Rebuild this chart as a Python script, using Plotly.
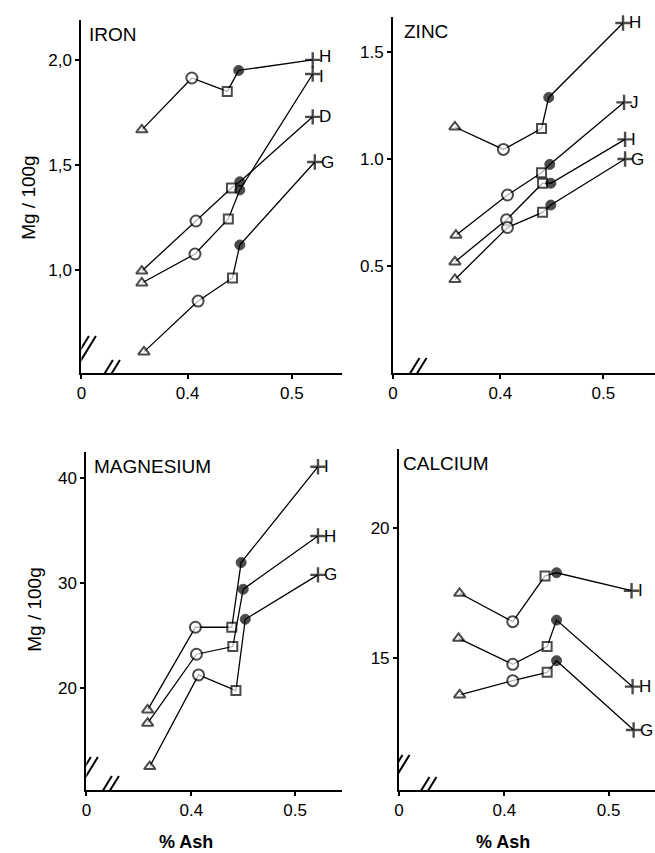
import plotly.graph_objects as go

# ---------------- data ----------------
symbols = ["triangle-up", "circle", "square", "circle", "cross-thin"]
fills = ["white", "white", "white", "black", "black"]

# IRON
iron_H_x = [0.356, 0.404, 0.438, 0.449, 0.520]
iron_H_y = [1.667, 1.914, 1.850, 1.950, 2.000]
iron_D_x = [0.356, 0.408, 0.442, 0.450, 0.520]
iron_D_y = [0.995, 1.233, 1.390, 1.420, 1.729]
iron_I_x = [0.356, 0.407, 0.439, 0.450, 0.520]
iron_I_y = [0.938, 1.076, 1.243, 1.381, 1.933]
iron_G_x = [0.358, 0.410, 0.443, 0.450, 0.522]
iron_G_y = [0.610, 0.852, 0.962, 1.119, 1.514]

# ZINC
zinc_H_x = [0.356, 0.403, 0.440, 0.447, 0.519]
zinc_H_y = [1.150, 1.045, 1.143, 1.288, 1.636]
zinc_J_x = [0.357, 0.407, 0.440, 0.448, 0.520]
zinc_J_y = [0.644, 0.832, 0.936, 0.975, 1.265]
zinc_I_x = [0.356, 0.406, 0.441, 0.449, 0.521]
zinc_I_y = [0.519, 0.716, 0.887, 0.887, 1.092]
zinc_G_x = [0.356, 0.407, 0.441, 0.449, 0.521]
zinc_G_y = [0.437, 0.680, 0.751, 0.785, 1.000]

# MAGNESIUM
mg_I_x = [0.358, 0.404, 0.439, 0.448, 0.522]
mg_I_y = [17.94, 25.81, 25.81, 31.97, 41.1]
mg_H_x = [0.358, 0.405, 0.440, 0.450, 0.522]
mg_H_y = [16.67, 23.24, 23.97, 29.43, 34.5]
mg_G_x = [0.360, 0.407, 0.443, 0.452, 0.522]
mg_G_y = [12.54, 21.27, 19.78, 26.57, 30.8]

# CALCIUM
ca_I_x = [0.357, 0.408, 0.439, 0.450, 0.522]
ca_I_y = [17.50, 16.41, 18.17, 18.29, 17.60]
ca_H_x = [0.356, 0.408, 0.441, 0.450, 0.523]
ca_H_y = [15.77, 14.77, 15.45, 16.47, 13.91]
ca_G_x = [0.357, 0.408, 0.441, 0.450, 0.524]
ca_G_y = [13.59, 14.14, 14.46, 14.91, 12.24]

x_tick_vals = [0.4, 0.5]
x_tick_text = ["0.4", "0.5"]
iron_ticks = [1.0, 1.5, 2.0]
iron_tick_text = ["1,0", "1,5", "2,0"]
zinc_ticks = [0.5, 1.0, 1.5]
zinc_tick_text = ["0.5", "1.0", "1.5"]
mg_ticks = [20, 30, 40]
mg_tick_text = ["20", "30", "40"]
ca_ticks = [15, 20]
ca_tick_text = ["15", "20"]

# ---------------- layout helpers ----------------
W, H = 655, 853
FONT = "Liberation Sans, Arial, sans-serif"

panels = [
    dict(title="IRON", ax="", series=[("H", iron_H_x, iron_H_y), ("D", iron_D_x, iron_D_y),
                                     ("I", iron_I_x, iron_I_y), ("G", iron_G_x, iron_G_y)],
         xr=[0.298, 0.5485], yr=[0.5095, 2.19], yt=iron_ticks, ytt=iron_tick_text,
         box=(77, 340, 20, 373), ybrk=(3, 24), xbrk=(27, 0), title_px=(83, 35),
         label_shift={"H": 3, "I": -3}),
    dict(title="ZINC", ax="2", series=[("H", zinc_H_x, zinc_H_y), ("J", zinc_J_x, zinc_J_y),
                                      ("I", zinc_I_x, zinc_I_y), ("G", zinc_G_x, zinc_G_y)],
         xr=[0.296, 0.55], yr=[0.0, 1.664], yt=zinc_ticks, ytt=zinc_tick_text,
         box=(391, 655, 17, 373), ybrk=None, xbrk=(22, 2), title_px=(400, 32),
         label_shift={}),
    dict(title="MAGNESIUM", ax="3", series=[("I", mg_I_x, mg_I_y), ("H", mg_H_x, mg_H_y),
                                           ("G", mg_G_x, mg_G_y)],
         xr=[0.299, 0.5455], yr=[10.31, 42.5], yt=mg_ticks, ytt=mg_tick_text,
         box=(82, 340, 452, 790), ybrk=(0, 20), xbrk=(21, 1), title_px=(88, 467),
         label_shift={}),
    dict(title="CALCIUM", ax="4", series=[("I", ca_I_x, ca_I_y), ("H", ca_H_x, ca_H_y),
                                         ("G", ca_G_x, ca_G_y)],
         xr=[0.2988, 0.5445], yr=[9.935, 23.05], yt=ca_ticks, ytt=ca_tick_text,
         box=(397, 655, 449, 790), ybrk=(-1, 22), xbrk=(26, 0), title_px=(399, 463),
         label_shift={}),
]

fig = go.Figure()
annotations = []
shapes = []

for p in panels:
    ax = p["ax"]
    xa, ya = "x" + ax, "y" + ax
    l, r, t, b = p["box"]
    for label, xs, ys in p["series"]:
        fig.add_trace(go.Scatter(
            x=xs, y=ys, xaxis=xa, yaxis=ya, mode="lines+markers",
            line=dict(color="black", width=1.3),
            marker=dict(symbol=symbols, color=fills,
                        size=[10, 11, 9, 10, 11],
                        line=dict(color="black", width=[2, 2, 2, 1, 2.4])),
            showlegend=False, cliponaxis=False, hoverinfo="skip"))
        annotations.append(dict(x=xs[-1], y=ys[-1], xref=xa, yref=ya, text=label,
                                xanchor="left", yanchor="middle", xshift=4,
                                yshift=p["label_shift"].get(label, 0), showarrow=False,
                                font=dict(family=FONT, size=17, color="black")))
    xaxis = dict(domain=[l / W, r / W], range=p["xr"], anchor=ya,
                 showline=True, linecolor="black", linewidth=2, showgrid=False, zeroline=False,
                 tickvals=[p["xr"][0]] + x_tick_vals, ticktext=["0"] + x_tick_text,
                 ticks="outside", ticklen=4, tickwidth=1.5, tickcolor="black",
                 tickfont=dict(family=FONT, size=17, color="black"), fixedrange=True)
    yaxis = dict(domain=[1 - b / H, 1 - t / H], range=p["yr"], anchor=xa,
                 showline=True, linecolor="black", linewidth=2, showgrid=False, zeroline=False,
                 tickvals=p["yt"], ticktext=p["ytt"],
                 ticks="outside", ticklen=4, tickwidth=1.5, tickcolor="black",
                 tickfont=dict(family=FONT, size=17, color="black"), fixedrange=True)
    fig.layout["xaxis" + ax] = xaxis
    fig.layout["yaxis" + ax] = yaxis
    annotations.append(dict(x=p["title_px"][0] / W, y=1 - p["title_px"][1] / H, xref="paper", yref="paper",
                            text=p["title"], xanchor="left", yanchor="middle", showarrow=False,
                            font=dict(family=FONT, size=19, color="black")))

    def slashes(dx, dy):
        for off in (-3.5, 3.5):
            shapes.append(dict(type="line", xref=xa, yref=ya,
                               xsizemode="pixel", ysizemode="pixel",
                               xanchor=p["xr"][0], yanchor=p["yr"][0],
                               x0=dx + off - 8, x1=dx + off + 8,
                               y0=dy - 13, y1=dy + 13,
                               line=dict(color="black", width=2)))
    if p["ybrk"] is not None:
        slashes(*p["ybrk"])
    slashes(*p["xbrk"])

for (px, py) in [(23, 197), (29, 609)]:
    annotations.append(dict(x=px / W, y=1 - py / H, xref="paper", yref="paper", text="Mg / 100g",
                            textangle=-90, showarrow=False, xanchor="center", yanchor="middle",
                            font=dict(family=FONT, size=19, color="black")))
for (px, py) in [(182, 842), (502, 842)]:
    annotations.append(dict(x=px / W, y=1 - py / H, xref="paper", yref="paper", text="<b>% Ash</b>",
                            showarrow=False, xanchor="center", yanchor="middle",
                            font=dict(family=FONT, size=18, color="black")))

fig.update_layout(width=W, height=H, margin=dict(l=0, r=0, t=0, b=0),
                  paper_bgcolor="white", plot_bgcolor="white",
                  annotations=annotations, shapes=shapes, showlegend=False)

fig.write_html("out.html", config={"displayModeBar": False},
               post_script="document.body.style.margin='0';document.body.style.overflow='hidden';")
